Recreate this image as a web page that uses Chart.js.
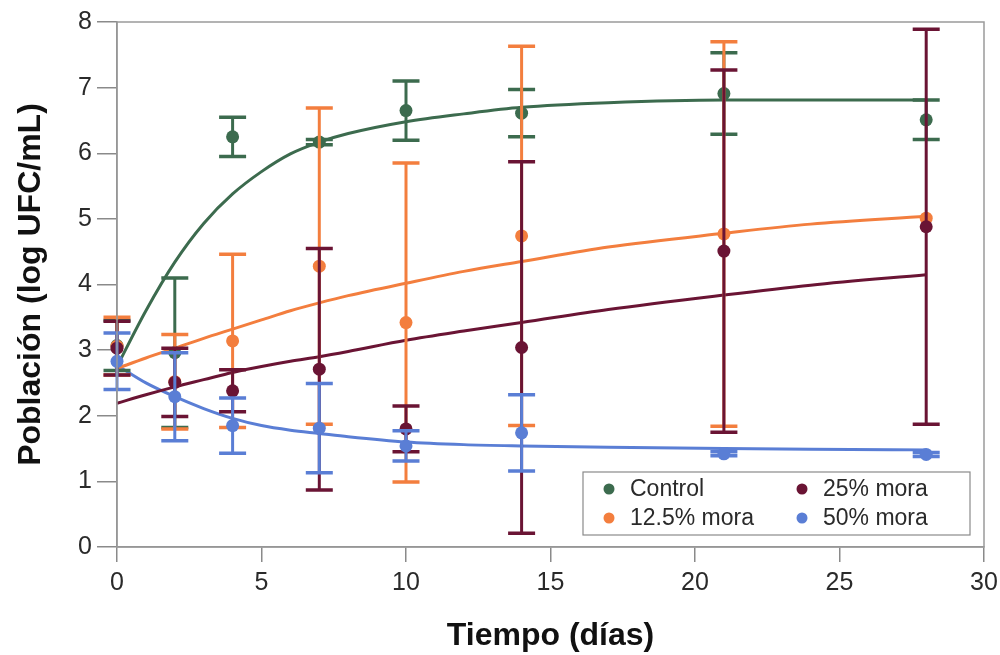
<!DOCTYPE html>
<html>
<head>
<meta charset="utf-8">
<script src="https://cdn.jsdelivr.net/npm/chart.js@4"></script>
<style>
  html, body { margin: 0; background: #fff; }
  #wrap { width: 1000px; height: 655px; position: relative; }
</style>
</head>
<body>
<div id="wrap"><canvas id="chart"></canvas></div>
<script>
// sampling days
const dias = [0, 2, 4, 7, 10, 14, 21, 28];

// means and error (±)
const controlMedia = [3.07, 2.96, 6.25, 6.17, 6.65, 6.61, 6.91, 6.51];
const controlError = [0.38, 1.14, 0.30, 0.04, 0.45, 0.36, 0.62, 0.30];
const mora125Media = [3.06, 2.52, 3.14, 4.28, 3.42, 4.74, 4.77, 5.01];
const mora125Error = [0.44, 0.72, 1.32, 2.41, 2.43, 2.89, 2.93, 0];
const mora25Media  = [3.03, 2.51, 2.38, 2.71, 1.80, 3.04, 4.51, 4.88];
const mora25Error  = [0.41, 0.52, 0.32, 1.84, 0.35, 2.83, 2.76, 3.01];
const mora50Media  = [2.83, 2.29, 1.85, 1.81, 1.54, 1.74, 1.42, 1.41];
const mora50Error  = [0.43, 0.67, 0.42, 0.68, 0.23, 0.58, 0.03, 0.03];

// fitted curves, read at these days
const curvaDias    = [0, 1, 2, 3, 4, 5, 6, 7, 8, 10, 12, 14, 17, 21, 24, 28];
const controlCurva = [2.75, 3.60, 4.34, 4.93, 5.38, 5.72, 5.99, 6.17, 6.30, 6.48, 6.60, 6.70, 6.77, 6.81, 6.81, 6.81];
const mora125Curva = [2.72, 2.88, 3.03, 3.18, 3.32, 3.46, 3.60, 3.72, 3.83, 4.02, 4.20, 4.35, 4.57, 4.78, 4.92, 5.04];
const mora25Curva  = [2.19, 2.32, 2.44, 2.55, 2.66, 2.75, 2.83, 2.90, 2.98, 3.15, 3.29, 3.42, 3.62, 3.84, 3.99, 4.15];
const mora50Curva  = [2.77, 2.50, 2.29, 2.11, 1.96, 1.85, 1.78, 1.73, 1.68, 1.60, 1.56, 1.54, 1.52, 1.50, 1.49, 1.48];

const xTicks = [0, 5, 10, 15, 20, 25, 30];
const yTicks = [0, 1, 2, 3, 4, 5, 6, 7, 8];

const nombres = ['Control', '12.5% mora', '25% mora', '50% mora'];
const colores = ['#3c6b4e', '#f37e3e', '#6a1434', '#5a7ed5'];

const medias  = [controlMedia, mora125Media, mora25Media, mora50Media];
const errores = [controlError, mora125Error, mora25Error, mora50Error];
const curvas  = [controlCurva, mora125Curva, mora25Curva, mora50Curva];

const toXY = (xs, ys) => xs.map((x, i) => ({ x, y: ys[i] }));

const datasets = [];
curvas.forEach((c, k) => {
  datasets.push({
    type: 'line',
    data: toXY(curvaDias, c),
    borderColor: colores[k],
    borderWidth: 3,
    pointRadius: 0,
    cubicInterpolationMode: 'monotone',
    fill: false,
    clip: false,
    order: 10
  });
});
medias.forEach((m, k) => {
  datasets.push({
    label: nombres[k],
    data: toXY(dias, m),
    errores: errores[k],
    backgroundColor: colores[k],
    borderColor: colores[k],
    pointRadius: 6.5,
    pointBorderWidth: 0,
    showLine: false,
    clip: false,
    order: 4 - k
  });
});

// vertical error bars with caps, drawn just before each point series
const errorBars = {
  id: 'errorBars',
  beforeDatasetDraw(chart, args) {
    const ds = chart.data.datasets[args.index];
    if (!ds.errores) return;
    const { ctx, scales: { x, y } } = chart;
    ctx.save();
    ctx.strokeStyle = ds.borderColor;
    ds.data.forEach((p, i) => {
      const e = ds.errores[i];
      if (!e) return;
      const px = x.getPixelForValue(p.x);
      const top = y.getPixelForValue(p.y + e);
      const bot = y.getPixelForValue(p.y - e);
      ctx.lineWidth = 3;
      ctx.beginPath();
      ctx.moveTo(px, top);
      ctx.lineTo(px, bot);
      ctx.stroke();
      ctx.lineWidth = 3.5;
      ctx.beginPath();
      ctx.moveTo(px - 13.5, top); ctx.lineTo(px + 13.5, top);
      ctx.moveTo(px - 13.5, bot); ctx.lineTo(px + 13.5, bot);
      ctx.stroke();
    });
    ctx.restore();
  }
};

// grey frame + legend box in lower right
const frameLegend = {
  id: 'frameLegend',
  afterDraw(chart) {
    const { ctx, chartArea: a } = chart;
    ctx.save();
    ctx.strokeStyle = '#9a9a9a';
    ctx.lineWidth = 1.5;
    ctx.strokeRect(a.left, a.top, a.right - a.left, a.bottom - a.top);

    const w = 387, h = 63;
    const bx = a.right - 14 - w, by = a.bottom - 12 - h;
    ctx.fillStyle = '#fff';
    ctx.fillRect(bx, by, w, h);
    ctx.strokeStyle = '#8a8a8a';
    ctx.lineWidth = 1.2;
    ctx.strokeRect(bx, by, w, h);

    ctx.font = '23px "Liberation Sans", Arial, sans-serif';
    ctx.textBaseline = 'middle';
    nombres.forEach((n, k) => {
      const col = k === 0 || k === 1 ? 0 : 1;
      const row = k === 0 || k === 2 ? 0 : 1;
      const cx = bx + 26 + col * 193;
      const cy = by + 17 + row * 29;
      ctx.fillStyle = colores[k];
      ctx.beginPath();
      ctx.arc(cx, cy, 5.5, 0, Math.PI * 2);
      ctx.fill();
      ctx.fillStyle = '#2a2a2a';
      ctx.fillText(n, cx + 21, cy + 1);
    });
    ctx.restore();
  }
};

const axisGrey = '#8a8a8a';

new Chart(document.getElementById('chart'), {
  type: 'scatter',
  data: { datasets },
  plugins: [errorBars, frameLegend],
  options: {
    responsive: true,
    maintainAspectRatio: false,
    animation: false,
    layout: { padding: { top: 22, right: 16, left: 0, bottom: 0 } },
    plugins: { legend: { display: false }, tooltip: { enabled: false } },
    scales: {
      x: {
        type: 'linear',
        min: 0, max: 30,
        afterBuildTicks: s => { s.ticks = xTicks.map(v => ({ value: v })); },
        afterFit: s => { s.height = 108; s.paddingRight = 0; s.paddingLeft = 0; },
        grid: { display: true, drawOnChartArea: false, drawTicks: true, tickLength: 15, color: axisGrey, lineWidth: 1.5 },
        border: { display: true, color: axisGrey, width: 1.5 },
        ticks: { color: '#2a2a2a', padding: 6, font: { family: '"Liberation Sans", Arial, sans-serif', size: 25 } },
        title: {
          display: true, text: 'Tiempo (días)', color: '#111',
          font: { family: '"Liberation Sans", Arial, sans-serif', size: 32, weight: 'bold' },
          padding: { top: 0, bottom: 0 }
        }
      },
      y: {
        type: 'linear',
        min: 0, max: 8,
        afterBuildTicks: s => { s.ticks = yTicks.map(v => ({ value: v })); },
        afterFit: s => { s.width = 117; },
        grid: { display: true, drawOnChartArea: false, drawTicks: true, tickLength: 20, color: axisGrey, lineWidth: 1.5 },
        border: { display: true, color: axisGrey, width: 1.5 },
        ticks: { color: '#2a2a2a', padding: 5, font: { family: '"Liberation Sans", Arial, sans-serif', size: 25 } },
        title: {
          display: true, text: 'Población (log UFC/mL)', color: '#111',
          font: { family: '"Liberation Sans", Arial, sans-serif', size: 32, weight: 'bold' },
          padding: { top: 12, bottom: 0 }
        }
      }
    }
  }
});
</script>
</body>
</html>
